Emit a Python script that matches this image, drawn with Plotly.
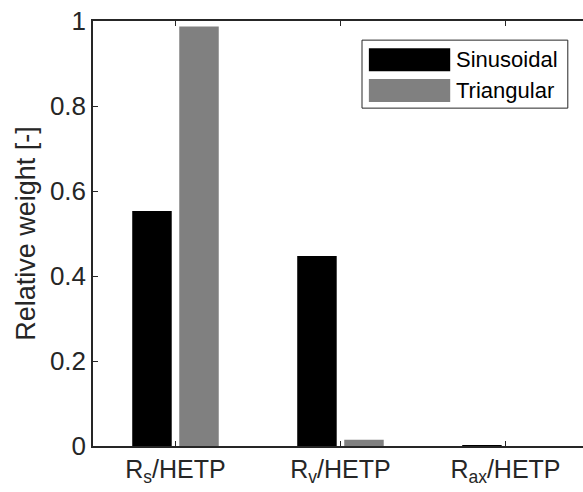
import plotly.graph_objects as go

# Relative weight of each plate-height contribution for two channel shapes
categories = ["R<sub>s</sub>/HETP", "R<sub>v</sub>/HETP", "R<sub>ax</sub>/HETP"]
series_names = ["Sinusoidal", "Triangular"]
sinusoidal = [0.553, 0.447, 0.002]
triangular = [0.987, 0.015, 0.0]
y_ticks = [0, 0.2, 0.4, 0.6, 0.8, 1]
y_tick_text = ["0", "0.2", "0.4", "0.6", "0.8", "1"]

colors = ["#000000", "#808080"]
axis_color = "#262626"
font_family = "Liberation Sans, Arial, sans-serif"

fig = go.Figure()
for name, vals, col in zip(series_names, [sinusoidal, triangular], colors):
    fig.add_trace(go.Bar(
        x=categories, y=vals, name=name,
        marker=dict(color=col, line=dict(width=0)),
        showlegend=False,
    ))

# Boxed legend with long swatches, placed top-right inside the axes
fig.add_shape(type="rect", xref="paper", yref="paper",
              x0=0.549, x1=0.969, y0=0.795, y1=0.955,
              line=dict(color=axis_color, width=1), fillcolor="white")
row_y = [0.909, 0.8365]
for name, col, yy in zip(series_names, colors, row_y):
    fig.add_shape(type="rect", xref="paper", yref="paper",
                  x0=0.563, x1=0.729, y0=yy - 0.027, y1=yy + 0.027,
                  fillcolor=col, line=dict(width=0))
    fig.add_annotation(xref="paper", yref="paper", x=0.737, y=yy,
                       text=name, showarrow=False, xanchor="left",
                       yanchor="middle",
                       font=dict(family=font_family, size=22, color="#000000"))

fig.update_layout(
    width=583, height=492,
    margin=dict(l=93, r=0, t=21, b=46),
    paper_bgcolor="white", plot_bgcolor="white",
    barmode="group", bargap=0.43, bargroupgap=0.16,
    font=dict(family=font_family, size=25, color="#262626"),
)
fig.update_xaxes(
    range=[-0.5, 2.47], showgrid=False, zeroline=False,
    showline=True, linecolor=axis_color, linewidth=1.5, mirror="ticks",
    ticks="inside", ticklen=5, tickcolor=axis_color, tickwidth=1,
    tickfont=dict(family=font_family, size=25, color="#262626"),
)
fig.update_yaxes(
    range=[0, 1], tickvals=y_ticks, ticktext=y_tick_text,
    showgrid=False, zeroline=False,
    showline=True, linecolor=axis_color, linewidth=1.5, mirror=False,
    ticks="inside", ticklen=5, tickcolor=axis_color, tickwidth=1,
    tickfont=dict(family=font_family, size=26, color="#262626"),
    title=dict(text="Relative weight [-]", standoff=6,
               font=dict(family=font_family, size=27, color="#262626")),
)

fig.write_html("out.html")
